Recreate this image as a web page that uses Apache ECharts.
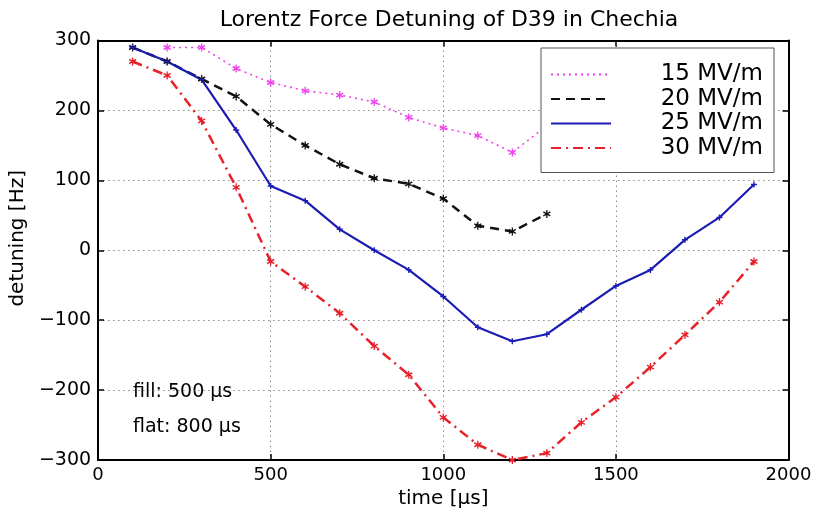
<!DOCTYPE html>
<html>
<head>
<meta charset="utf-8">
<script src="https://cdn.jsdelivr.net/npm/echarts@6/dist/echarts.min.js"></script>
<style>
html,body{margin:0;padding:0;background:#fff;}
#chart{width:816px;height:514px;}
</style>
</head>
<body>
<div id="chart"></div>
<script>
// ---- data ----
const t15 = [200, 300, 400, 500, 600, 700, 800, 900, 1000, 1100, 1200, 1300];
const v15 = [290, 290, 260, 240, 228, 222, 212, 190, 175, 164, 140, 178];

const t20 = [100, 200, 300, 400, 500, 600, 700, 800, 900, 1000, 1100, 1200, 1300];
const v20 = [290, 270, 245, 220, 180, 150, 123, 103, 95, 74, 35, 27, 52];

const t25 = [100, 200, 300, 400, 500, 600, 700, 800, 900, 1000, 1100, 1200, 1300, 1400, 1500, 1600, 1700, 1800, 1900];
const v25 = [290, 270, 244, 172, 92, 71, 30, 0, -28, -66, -110, -130, -120, -85, -51, -28, 15, 47, 94];

const t30 = [100, 200, 300, 400, 500, 600, 700, 800, 900, 1000, 1100, 1200, 1300, 1400, 1500, 1600, 1700, 1800, 1900];
const v30 = [270, 250, 185, 90, -16, -52, -90, -137, -178, -239, -278, -300, -290, -246, -210, -167, -121, -74, -16];

const seriesNames = ['15 MV/m', '20 MV/m', '25 MV/m', '30 MV/m'];
const titleText = 'Lorentz Force Detuning of D39 in Chechia';
const xName = 'time [µs]';
const yName = 'detuning [Hz]';
const notes = ['fill: 500 µs', 'flat: 800 µs'];

// ---- chart ----
const FONT = 'DejaVu Sans';
const zip = (a, b) => a.map((x, i) => [x, b[i]]);
const star = 'path://M0,0L0,10M-4.33,2.5L4.33,7.5M-4.33,7.5L4.33,2.5';
const plus = 'path://M0,5L10,5M5,0L5,10';
const fmt = v => String(v).replace('-', '\u2212');

const chart = echarts.init(document.getElementById('chart'), null, {renderer: 'canvas'});

const gridLine = {show: true, lineStyle: {color: '#8a8a8a', width: 1, type: [1.5, 3.5]}};
const axisLineStyle = {show: true, onZero: false, lineStyle: {color: '#000', width: 2}};
const tick = {show: true, inside: true, length: 6, lineStyle: {color: '#000', width: 1.5}};

function mkSeries(name, t, v, color, width, type, symbol, symSize) {
  return {
    name: name,
    type: 'line',
    data: zip(t, v),
    symbol: symbol,
    symbolSize: symSize,
    showSymbol: true,
    lineStyle: {color: color, width: width, type: type},
    itemStyle: {color: color, borderColor: color, borderWidth: 1.4},
    emphasis: {disabled: true},
    z: 3
  };
}

chart.setOption({
  animation: false,
  backgroundColor: '#fff',
  title: {
    text: titleText,
    left: 444,
    textAlign: 'center',
    top: 4,
    textStyle: {fontFamily: FONT, fontSize: 22, fontWeight: 'normal', color: '#000'}
  },
  grid: {left: 97.5, right: 27.5, top: 40.5, bottom: 51.3, containLabel: false},
  xAxis: [{
    type: 'value', min: 0, max: 2000, interval: 500, position: 'bottom',
    name: xName, nameLocation: 'middle', nameGap: 24,
    nameTextStyle: {fontFamily: FONT, fontSize: 20, color: '#000'},
    axisLine: axisLineStyle, axisTick: tick,
    axisLabel: {fontFamily: FONT, fontSize: 18, color: '#000', margin: 6, formatter: fmt},
    splitLine: gridLine
  }, {
    type: 'value', min: 0, max: 2000, interval: 500, position: 'top',
    axisLine: {show: true, onZero: false, lineStyle: {color: '#000', width: 2}},
    axisTick: tick, axisLabel: {show: false}, splitLine: {show: false}
  }],
  yAxis: [{
    type: 'value', min: -300, max: 300, interval: 100, position: 'left',
    name: yName, nameLocation: 'middle', nameGap: 65,
    nameTextStyle: {fontFamily: FONT, fontSize: 20, color: '#000', padding: [0, 0, 0, 24]},
    axisLine: axisLineStyle, axisTick: tick,
    axisLabel: {fontFamily: FONT, fontSize: 19, color: '#000', margin: 7, formatter: fmt},
    splitLine: gridLine
  }, {
    type: 'value', min: -300, max: 300, interval: 100, position: 'right',
    axisLine: {show: true, onZero: false, lineStyle: {color: '#000', width: 2}},
    axisTick: tick, axisLabel: {show: false}, splitLine: {show: false}
  }],
  legend: {
    orient: 'vertical',
    left: 541, top: 48,
    padding: [15, 11, 13, 9],
    itemWidth: 60, itemHeight: 14, itemGap: 1.5,
    backgroundColor: '#fff',
    borderColor: '#555', borderWidth: 1,
    selectedMode: false,
    itemStyle: {opacity: 0},
    formatter: '{a|{name}}',
    textStyle: {
      rich: {a: {fontFamily: FONT, fontSize: 23, color: '#000', width: 147, align: 'right', lineHeight: 22}}
    },
    data: seriesNames,
    z: 10
  },
  graphic: [
    {type: 'text', left: 133, top: 383, style: {text: notes[0], fontFamily: FONT, fontSize: 19, fill: '#000'}},
    {type: 'text', left: 133, top: 418, style: {text: notes[1], fontFamily: FONT, fontSize: 19, fill: '#000'}}
  ],
  series: [
    mkSeries(seriesNames[0], t15, v15, '#ee44ee', 1.6, [2, 4], star, [7, 8]),
    mkSeries(seriesNames[1], t20, v20, '#111111', 2.5, [9, 6], star, [7, 8]),
    mkSeries(seriesNames[2], t25, v25, '#1c1cb4', 2.2, 'solid', plus, [6, 6]),
    mkSeries(seriesNames[3], t30, v30, '#e8202a', 2.5, [10, 5, 2, 5], star, [7, 8])
  ]
});
</script>
</body>
</html>
